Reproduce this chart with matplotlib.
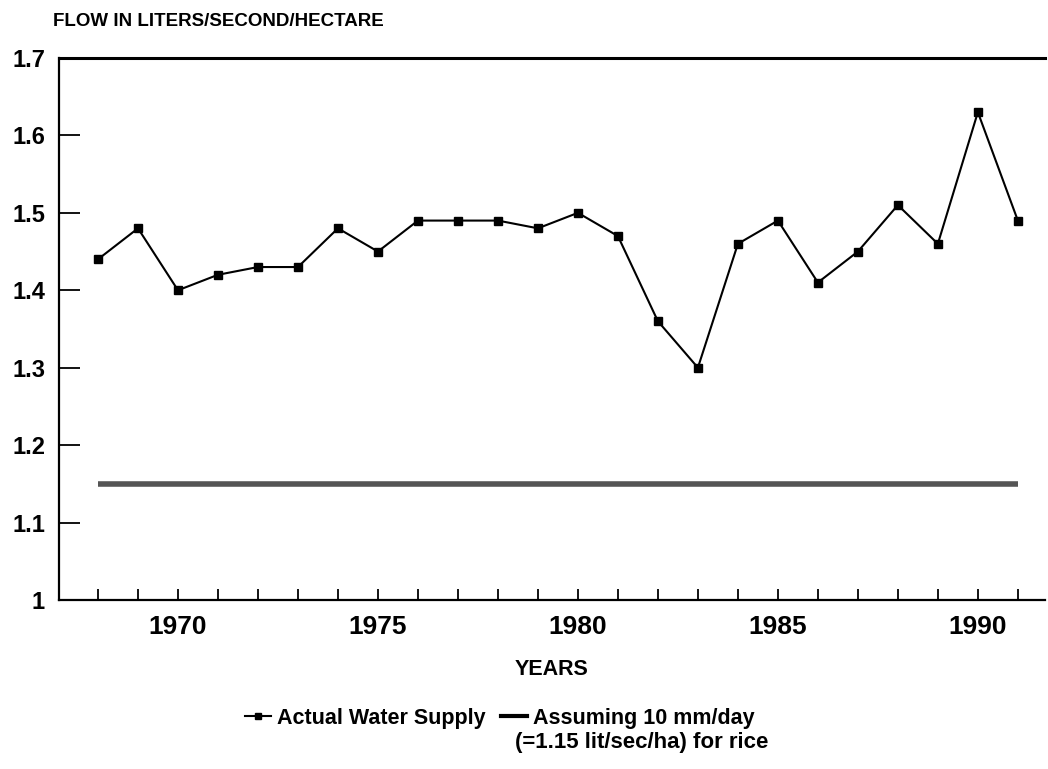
import matplotlib
matplotlib.use("Agg")
from matplotlib import pyplot as plt
from matplotlib.lines import Line2D

plt.rcParams['font.family'] = ['Liberation Sans', 'DejaVu Sans']
plt.rcParams['font.weight'] = 'bold'

years = list(range(1968, 1992))
actual_supply = [1.44, 1.48, 1.40, 1.42, 1.43, 1.43, 1.48, 1.45, 1.49, 1.49,
                 1.49, 1.48, 1.50, 1.47, 1.36, 1.30, 1.46, 1.49, 1.41, 1.45,
                 1.51, 1.46, 1.63, 1.49]
rice_requirement = [1.15] * len(years)
label_years = [1970, 1975, 1980, 1985, 1990]
y_ticks = [1.0, 1.1, 1.2, 1.3, 1.4, 1.5, 1.6, 1.7]

fig = plt.figure(figsize=(10.48, 7.69), dpi=100)
ax = fig.add_axes([0.0563, 0.2198, 0.9407, 0.7048])

ax.plot(years, rice_requirement, color='#555555', lw=4, solid_capstyle='butt', zorder=2)
ax.plot(years, actual_supply, color='black', lw=1.5, marker='s', markersize=5.5,
        markerfacecolor='black', markeredgecolor='black', zorder=3)

ax.set_xlim(1967.025, 1991.675)
ax.set_ylim(1.0, 1.7)

ax.set_xticks(label_years)
ax.set_xticks(years, minor=True)
ax.set_xticklabels([str(y) for y in label_years])
ax.set_yticks(y_ticks)
ax.set_yticklabels(['1', '1.1', '1.2', '1.3', '1.4', '1.5', '1.6', '1.7'])

ax.tick_params(axis='x', which='both', direction='in', length=8, width=1.3,
               pad=11, labelsize=19)
ax.tick_params(axis='y', direction='in', length=15, width=1.3, pad=10, labelsize=17)

ax.spines['right'].set_visible(False)
ax.spines['top'].set_linewidth(2.2)
ax.spines['bottom'].set_linewidth(1.6)
ax.spines['left'].set_linewidth(1.6)

ax.set_xlabel('YEARS', fontsize=15.5, fontweight='bold', labelpad=14)

fig.text(0.051, 0.972, 'FLOW IN LITERS/SECOND/HECTARE', fontsize=13.5,
         fontweight='bold', ha='left', va='center')

handles = [
    Line2D([], [], color='black', lw=1.5, marker='s', markersize=4),
    Line2D([], [], color='black', lw=3),
]
ax.legend(handles, ['Actual Water Supply', 'Assuming 10 mm/day'],
          loc='center', bbox_to_anchor=(0.447, -0.218), ncol=2, frameon=False,
          fontsize=15.5, handlelength=1.2, handletextpad=0.3, columnspacing=0.7)
fig.text(0.491, 0.035, '(=1.15 lit/sec/ha) for rice', fontsize=16,
         fontweight='bold', ha='left', va='center')

fig.savefig('out.png', dpi=100)
plt.close(fig)
